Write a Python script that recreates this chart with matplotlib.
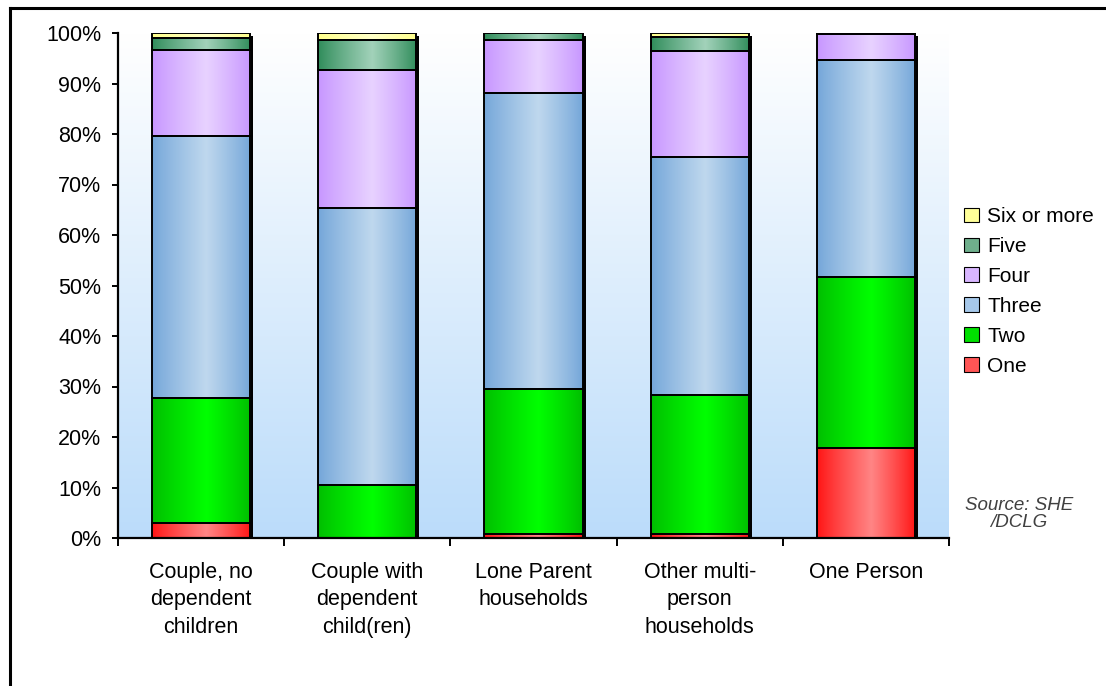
import numpy as np
import matplotlib
matplotlib.use("Agg")
import matplotlib.pyplot as plt
from matplotlib.patches import Rectangle, Patch
from matplotlib.lines import Line2D
from matplotlib.colors import to_rgb

plt.rcParams['font.family'] = ['Liberation Sans', 'DejaVu Sans']

categories = ["Couple, no\ndependent\nchildren",
              "Couple with\ndependent\nchild(ren)",
              "Lone Parent\nhouseholds",
              "Other multi-\nperson\nhouseholds",
              "One Person"]
series_names = ["One", "Two", "Three", "Four", "Five", "Six or more"]
one = [3.0, 0.0, 0.8, 0.8, 17.8]
two = [24.7, 10.5, 28.8, 27.6, 33.9]
three = [52.0, 54.8, 58.6, 47.0, 43.0]
four = [17.0, 27.4, 10.5, 21.0, 5.1]
five = [2.3, 6.0, 1.3, 2.9, 0.2]
six = [1.0, 1.3, 0.0, 0.7, 0.0]
series_values = [one, two, three, four, five, six]
y_ticks = [0, 10, 20, 30, 40, 50, 60, 70, 80, 90, 100]

# (edge colour, centre colour, legend colour)
styles = [("#FF1414", "#FF8585", "#FF5555"),
          ("#00BE00", "#00FF00", "#00E000"),
          ("#74A6D9", "#BFD8EE", "#A6C8EA"),
          ("#C796FF", "#E8D2FF", "#D8B6FF"),
          ("#2F8C5A", "#A2D2BA", "#6FAF8C"),
          ("#FFFF8A", "#FFFFC8", "#FFFF99")]

W, H = 1106, 686
fig = plt.figure(figsize=(W / 100, H / 100), dpi=100)
ax = fig.add_axes([118 / W, 1 - 538 / H, (949 - 118) / W, (538 - 33) / H])

# background gradient of the plot area
grad = np.linspace(0, 1, 256)[:, None]
top = np.array(to_rgb("#FFFFFF"))
bot = np.array(to_rgb("#BBDCFA"))
bg = top[None, None, :] * (1 - grad[..., None]) + bot[None, None, :] * grad[..., None]
bg = np.repeat(bg, 2, axis=1)
ax.imshow(bg, extent=[-0.5, 4.5, 0, 100], aspect='auto', zorder=0, origin='upper')

bar_w = 0.59
t = np.linspace(0, 1, 128)
wprof = 1 - np.abs((t - 0.55) / np.where(t < 0.55, 0.55, 0.45))
wprof = np.clip(wprof, 0, 1) ** 0.9

x = np.arange(len(categories))
totals = np.sum(np.array(series_values), axis=0)
sx = 3 / 166.2
sy = 3 / 5.05
for i in range(len(categories)):
    x0 = x[i] - bar_w / 2
    ax.add_patch(Rectangle((x0 + sx, 0), bar_w, totals[i] - sy,
                           facecolor='black', edgecolor='none', zorder=1))

bottom = np.zeros(len(categories))
for vals, (ce, cc, _) in zip(series_values, styles):
    ce = np.array(to_rgb(ce))
    cc = np.array(to_rgb(cc))
    row = ce[None, :] + (cc - ce)[None, :] * wprof[:, None]
    img = row[None, :, :]
    for i, v in enumerate(vals):
        if v <= 0:
            continue
        x0 = x[i] - bar_w / 2
        ax.imshow(img, extent=[x0, x0 + bar_w, bottom[i], bottom[i] + v],
                  aspect='auto', zorder=2, interpolation='bilinear')
        ax.add_patch(Rectangle((x0, bottom[i]), bar_w, v, fill=False,
                               edgecolor='black', linewidth=1.4, zorder=3))
    bottom += np.array(vals)

ax.set_xlim(-0.5, 4.5)
ax.set_ylim(0, 100)
for s in ['top', 'right']:
    ax.spines[s].set_visible(False)
for s in ['left', 'bottom']:
    ax.spines[s].set_linewidth(1.6)
    ax.spines[s].set_zorder(5)

ax.set_yticks(y_ticks)
ax.set_yticklabels([f"{v}%" for v in y_ticks], fontsize=15.5)
ax.tick_params(axis='y', direction='out', length=4, width=1.4, pad=8)
ax.set_xticks(x)
ax.set_xticklabels(categories, fontsize=15.5, linespacing=1.42, va='top')
ax.tick_params(axis='x', which='major', length=0, pad=17)
ax.set_xticks(np.arange(-0.5, 5.0, 1.0), minor=True)
ax.tick_params(axis='x', which='minor', direction='out', length=6, width=1.4)

handles = [Patch(facecolor=styles[k][2], edgecolor='black', linewidth=0.8)
           for k in range(len(series_names))][::-1]
leg = fig.legend(handles, series_names[::-1], loc='upper left',
                 bbox_to_anchor=(956 / W, 1 - 199 / H), frameon=False,
                 fontsize=15, handlelength=0.7, handleheight=0.7,
                 handletextpad=0.4, labelspacing=0.52, borderaxespad=0)

fig.text(1019 / W, 1 - 514 / H, "Source: SHE\n/DCLG", fontsize=13.5,
         style='italic', color='#404040', ha='center', va='center',
         linespacing=1.05)

# outer frame (top and left edges visible)
fig.add_artist(Line2D([10 / W, 10 / W], [0, 1 - 8 / H], color='black',
                      linewidth=2.2, transform=fig.transFigure))
fig.add_artist(Line2D([10 / W, 1], [1 - 8 / H, 1 - 8 / H], color='black',
                      linewidth=2.2, transform=fig.transFigure))

fig.savefig("out.png", dpi=100, facecolor='white')
